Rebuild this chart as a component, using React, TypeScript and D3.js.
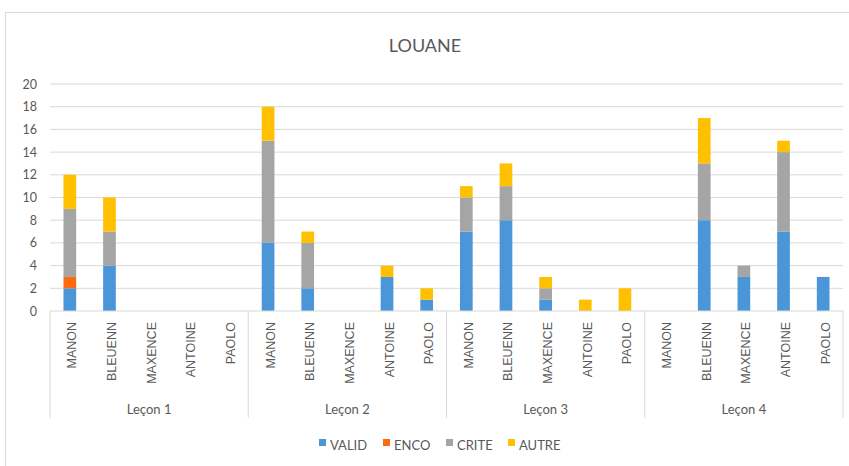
import React from "react";
import * as d3 from "d3";

const lessons = ["Leçon 1", "Leçon 2", "Leçon 3", "Leçon 4"];
const students = ["MANON", "BLEUENN", "MAXENCE", "ANTOINE", "PAOLO"];
const seriesNames = ["VALID", "ENCO", "CRITE", "AUTRE"];
const seriesColors = ["#4a96d9", "#ff6a10", "#a5a5a5", "#ffc000"];
// values ordered lesson by lesson, student by student
const VALID = [2, 4, 0, 0, 0, 6, 2, 0, 3, 1, 7, 8, 1, 0, 0, 0, 8, 3, 7, 3];
const ENCO = [1, 0, 0, 0, 0, 0, 0, 0, 0, 0, 0, 0, 0, 0, 0, 0, 0, 0, 0, 0];
const CRITE = [6, 3, 0, 0, 0, 9, 4, 0, 0, 0, 3, 3, 1, 0, 0, 0, 5, 1, 7, 0];
const AUTRE = [3, 3, 0, 0, 0, 3, 1, 0, 1, 1, 1, 2, 1, 1, 2, 0, 4, 0, 1, 0];
const yTicks = [0, 2, 4, 6, 8, 10, 12, 14, 16, 18, 20];

export default function App() {
  const W = 849, H = 466;
  const left = 50, right = 843, top = 84, bottom = 311;
  const keys = lessons.flatMap((l) => students.map((s) => l + "|" + s));
  const rows = keys.map((k, i) => ({ key: k, VALID: VALID[i], ENCO: ENCO[i], CRITE: CRITE[i], AUTRE: AUTRE[i] }));
  const stack = d3.stack<any>().keys(seriesNames)(rows);
  const x = d3.scaleBand().domain(keys).range([left, right]).padding(0);
  const y = d3.scaleLinear().domain([0, 20]).range([bottom, top]);
  const bw = x.bandwidth() * 0.32;
  const groupW = (right - left) / lessons.length;
  const txt = "#595959";
  const legendX = [319, 383, 446, 508];

  return (
    <svg width={W} height={H} style={{ position: "absolute", left: 0, top: 0, background: "#fff" }}>
      <rect x={5.5} y={12.5} width={860} height={470} fill="#fff" stroke="#d9d9d9" />
      <text x={425} y={52} textAnchor="middle" fontFamily="Lato, 'Open Sans', sans-serif" fontSize={18} fill={txt}>LOUANE</text>
      {yTicks.map((t) => (
        <g key={t}>
          {t > 0 && <line x1={left} x2={right} y1={y(t)} y2={y(t)} stroke="#d9d9d9" strokeWidth={1} />}
          <text x={37} y={y(t) + 4.5} textAnchor="end" fontFamily="Lato, sans-serif" fontSize={12.5} fill={txt}>{t}</text>
        </g>
      ))}
      {stack.map((s, si) => (
        <g key={s.key} fill={seriesColors[si]}>
          {s.map((d, i) => {
            const h = y(d[0]) - y(d[1]);
            if (h <= 0) return null;
            return <rect key={i} x={(x(keys[i]) as number) + (x.bandwidth() - bw) / 2} y={y(d[1])} width={bw} height={h} />;
          })}
        </g>
      ))}
      <line x1={left} x2={right} y1={bottom} y2={bottom} stroke="#d9d9d9" />
      {d3.range(lessons.length + 1).map((i) => (
        <line key={i} x1={left + i * groupW} x2={left + i * groupW} y1={bottom} y2={418} stroke="#d9d9d9" />
      ))}
      {keys.map((k, i) => {
        const cx = (x(k) as number) + x.bandwidth() / 2;
        return (
          <text key={k} transform={`translate(${cx + 6.5},322) rotate(-90)`} textAnchor="end" fontFamily="'Liberation Sans', Arial, sans-serif" fontSize={12.5} fill={txt}>
            {students[i % students.length]}
          </text>
        );
      })}
      {lessons.map((l, i) => (
        <text key={l} x={left + (i + 0.5) * groupW} y={414} textAnchor="middle" fontFamily="Lato, sans-serif" fontSize={13} fill={txt}>{l}</text>
      ))}
      {seriesNames.map((n, i) => (
        <g key={n}>
          <rect x={legendX[i]} y={439} width={7} height={7} fill={seriesColors[i]} />
          <text x={legendX[i] + 11} y={450} fontFamily="Lato, sans-serif" fontSize={13} fill={txt}>{n}</text>
        </g>
      ))}
    </svg>
  );
}
